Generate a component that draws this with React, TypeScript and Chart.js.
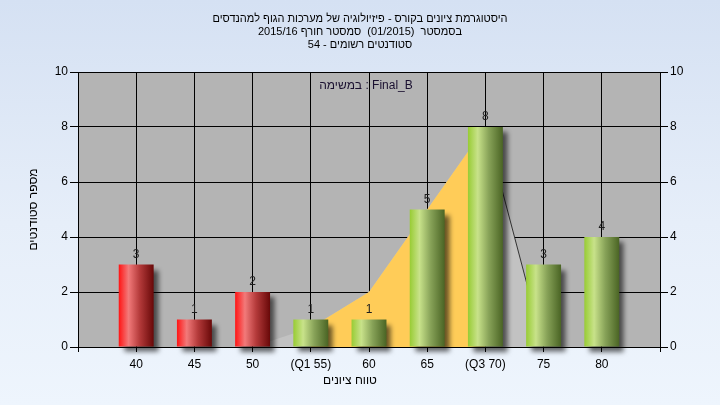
import React, { useEffect, useRef } from 'react';
import { Chart, registerables } from 'chart.js';

Chart.register(...registerables);

// ---- data ----
const categories = ['', '40', '45', '50', '(Q1 55)', '60', '65', '(Q3 70)', '75', '80', ''];
const gradeBins = [35, 40, 45, 50, 55, 60, 65, 70, 75, 80, 85];
const passingGrade = 55;
const studentCounts: (number | null)[] = [null, 3, 1, 2, 1, 1, 5, 8, 3, 4, null];
const distributionCurve: (number | null)[] = [null, null, null, 0, 0.7, 2, 5, 8, 0, null, null];
const interQuartileCurve: (number | null)[] = [null, null, null, null, 0.7, 2, 5, 8, null, null, null];
const yTicks = [0, 2, 4, 6, 8, 10];
const titleLines = [
  'היסטוגרמת ציונים בקורס - פיזיולוגיה של מערכות הגוף למהנדסים',
  'בסמסטר  (01/2015)  סמסטר חורף 2015/16',
  'סטודנטים רשומים - 54',
];
const assignmentLabel = 'במשימה : Final_B';
const xAxisTitle = 'טווח ציונים';
const yAxisTitle = 'מספר סטודנטים';

const FONT = "'Liberation Sans', Arial, 'DejaVu Sans', sans-serif";
const BAR_PCT = 0.6;

function barFill(c: any) {
  if (c.type !== 'data') return '#8fbf3f';
  const chart = c.chart;
  const xs = chart.scales.x;
  const fail = gradeBins[c.dataIndex] < passingGrade;
  if (!xs || !xs.width) return fail ? '#d02020' : '#8fbf3f';
  const cx = xs.getPixelForValue(c.dataIndex);
  const w = (xs.width / (categories.length - 1)) * BAR_PCT;
  const g = chart.ctx.createLinearGradient(cx - w / 2, 0, cx + w / 2, 0);
  if (fail) {
    g.addColorStop(0, '#ff1414');
    g.addColorStop(0.28, '#f27a7a');
    g.addColorStop(0.6, '#b43a3a');
    g.addColorStop(1, '#680808');
  } else {
    g.addColorStop(0, '#98cc34');
    g.addColorStop(0.28, '#c8e28a');
    g.addColorStop(0.6, '#87a258');
    g.addColorStop(1, '#4a6424');
  }
  return g;
}

const decorPlugin = {
  id: 'decor',
  beforeDraw(chart: any) {
    const { ctx, chartArea: a } = chart;
    ctx.save();
    ctx.fillStyle = '#b4b4b4';
    ctx.fillRect(a.left, a.top, a.right - a.left, a.bottom - a.top);
    ctx.restore();
  },
  beforeDatasetDraw(chart: any, args: any) {
    if (args.index === 0) {
      const ctx = chart.ctx;
      ctx.save();
      ctx.shadowColor = 'rgba(0,0,0,0.6)';
      ctx.shadowBlur = 5;
      ctx.shadowOffsetX = 5;
      ctx.shadowOffsetY = 5;
    }
  },
  afterDatasetDraw(chart: any, args: any) {
    if (args.index === 0) chart.ctx.restore();
  },
  afterDatasetsDraw(chart: any) {
    const { ctx, chartArea: a } = chart;
    const meta = chart.getDatasetMeta(0);
    ctx.save();
    ctx.font = `12px ${FONT}`;
    ctx.fillStyle = '#1e1e1e';
    ctx.textAlign = 'center';
    ctx.textBaseline = 'alphabetic';
    meta.data.forEach((el: any, i: number) => {
      const v = studentCounts[i];
      if (v == null) return;
      ctx.fillText(String(v), el.x, el.y - 7);
    });
    ctx.fillStyle = '#1a1030';
    ctx.textBaseline = 'middle';
    ctx.fillText(assignmentLabel, (a.left + a.right) / 2 - 3, a.top + 14);
    ctx.fillStyle = '#000';
    ctx.fillText(xAxisTitle, (a.left + a.right) / 2 - 19, a.bottom + 34);
    ctx.restore();
  },
};

export default function App() {
  const ref = useRef<HTMLCanvasElement | null>(null);
  useEffect(() => {
    if (!ref.current) return;
    Chart.defaults.font.family = FONT;
    const chart = new Chart(ref.current, {
      type: 'bar',
      data: {
        labels: categories,
        datasets: [
          {
            type: 'bar',
            data: studentCounts,
            backgroundColor: barFill,
            borderWidth: 0,
            barPercentage: BAR_PCT,
            categoryPercentage: 1,
            order: 0,
            clip: false,
            yAxisID: 'y',
          } as any,
          {
            type: 'line',
            data: interQuartileCurve,
            backgroundColor: '#ffcc58',
            borderColor: 'rgba(0,0,0,0)',
            borderWidth: 0,
            fill: 'origin',
            pointRadius: 0,
            tension: 0,
            order: 1,
            yAxisID: 'y',
          } as any,
          {
            type: 'line',
            data: distributionCurve,
            backgroundColor: '#c2c2c2',
            borderColor: 'rgba(0,0,0,0)',
            borderWidth: 1,
            fill: 'origin',
            pointRadius: 0,
            tension: 0,
            order: 2,
            yAxisID: 'y',
            segment: {
              borderColor: (s: any) => (s.p0DataIndex === 7 ? '#333333' : 'rgba(0,0,0,0)'),
            },
          } as any,
        ],
      },
      options: {
        responsive: false,
        animation: false,
        events: [],
        layout: { padding: 0 },
        plugins: {
          legend: { display: false },
          tooltip: { enabled: false },
          title: {
            display: true,
            text: titleLines,
            color: '#000',
            font: { size: 11, family: FONT, weight: 'normal', lineHeight: 13 / 11 },
            padding: { top: 12, bottom: 21 },
          },
        },
        scales: {
          x: {
            type: 'category',
            offset: false,
            grid: { offset: false, color: '#000', lineWidth: 1, tickLength: 5, drawTicks: true },
            border: { color: '#000', width: 1 },
            ticks: { color: '#000', font: { size: 12 }, padding: 5, autoSkip: false, maxRotation: 0 },
            afterFit: (s: any) => { s.height = 58; },
          },
          y: {
            position: 'left',
            min: 0,
            max: 10,
            afterBuildTicks: (s: any) => { s.ticks = yTicks.map((v) => ({ value: v })); },
            ticks: { color: '#000', font: { size: 12 }, padding: 2 },
            grid: { color: '#000', lineWidth: 1, tickLength: 8 },
            border: { color: '#000', width: 1 },
            title: {
              display: true,
              text: yAxisTitle,
              color: '#000',
              font: { size: 12 },
              padding: { top: 26, bottom: 0 },
            },
            afterFit: (s: any) => { s.width = 78; },
          },
          y1: {
            position: 'right',
            min: 0,
            max: 10,
            afterBuildTicks: (s: any) => { s.ticks = yTicks.map((v) => ({ value: v })); },
            ticks: { color: '#000', font: { size: 12 }, padding: 2 },
            grid: { drawOnChartArea: false, color: '#000', lineWidth: 1, tickLength: 8 },
            border: { color: '#000', width: 1 },
            afterFit: (s: any) => { s.width = 60; },
          },
        },
      } as any,
      plugins: [decorPlugin],
    });
    return () => chart.destroy();
  }, []);

  return (
    <div
      style={{
        position: 'fixed',
        left: 0,
        top: 0,
        width: 720,
        height: 405,
        background: 'linear-gradient(to bottom, #d5e1f3 0%, #e6eef9 55%, #eef5fd 100%)',
      }}
    >
      <canvas ref={ref} width={720} height={405} style={{ display: 'block', width: 720, height: 405 }} />
    </div>
  );
}
